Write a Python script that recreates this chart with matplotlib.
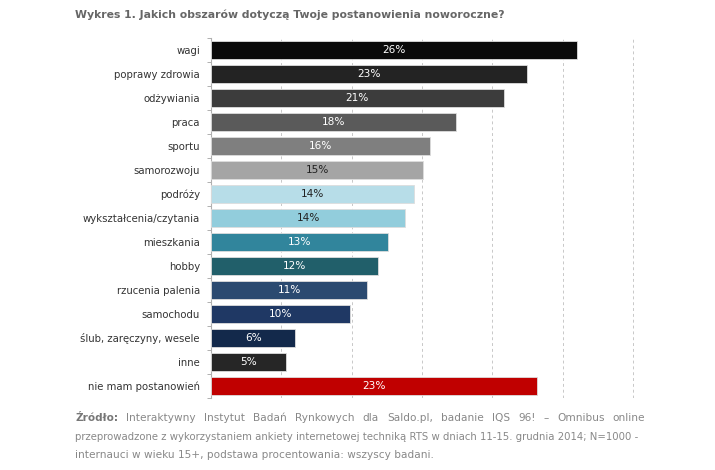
import matplotlib
matplotlib.use("Agg")
import matplotlib.pyplot as plt
from matplotlib.ticker import FixedLocator, NullFormatter

categories = ["wagi", "poprawy zdrowia", "odżywiania", "praca", "sportu", "samorozwoju",
              "podróży", "wykształcenia/czytania", "mieszkania", "hobby", "rzucenia palenia",
              "samochodu", "ślub, zaręczyny, wesele", "inne", "nie mam postanowień"]
values = [26.0, 22.5, 20.8, 17.4, 15.6, 15.1, 14.4, 13.8, 12.6, 11.9, 11.1, 9.9, 6.0, 5.3, 23.2]
labels = ["26%", "23%", "21%", "18%", "16%", "15%", "14%", "14%", "13%", "12%", "11%",
          "10%", "6%", "5%", "23%"]
colors = ["#0a0a0a", "#232323", "#3c3c3c", "#5a5a5a", "#7f7f7f", "#a5a5a5",
          "#b7dde8", "#92cddc", "#31859c", "#215f6a", "#2b4a70", "#1f3864",
          "#13294b", "#262626", "#c00000"]
text_colors = ["white", "white", "white", "white", "white", "#222222",
               "#222222", "#222222", "white", "white", "white", "white",
               "white", "white", "white"]

title = "Wykres 1. Jakich obszarów dotyczą Twoje postanowienia noworoczne?"
source_bold = "Źródło:"
source_lines = [
    "Interaktywny Instytut Badań Rynkowych dla Saldo.pl, badanie IQS 96! – Omnibus online",
    "przeprowadzone z wykorzystaniem ankiety internetowej techniką RTS w dniach 11-15. grudnia 2014; N=1000 -",
    "internauci w wieku 15+, podstawa procentowania: wszyscy badani.",
]

W, H = 715, 470
fig = plt.figure(figsize=(W / 100, H / 100), dpi=100)
ax = fig.add_axes([211 / W, 1 - 398 / H, (647 - 211) / W, (398 - 38) / H])

y = list(range(len(categories)))
bars = ax.barh(y, values, height=0.76, color=colors, edgecolor="#dddddd", linewidth=0.6, zorder=3)
for b, lab, tc in zip(bars, labels, text_colors):
    ax.text(b.get_width() / 2, b.get_y() + b.get_height() / 2, lab, ha="center", va="center",
            color=tc, fontsize=7.6, zorder=4)

ax.set_xlim(0, 31)
ax.set_ylim(len(categories) - 0.5, -0.5)
ax.set_xticks([5, 10, 15, 20, 25, 30])
ax.tick_params(axis="x", length=0, labelbottom=False)
ax.xaxis.grid(True, linestyle=(0, (3, 3)), color="#c8c8c8", linewidth=0.7, zorder=0)

ax.set_yticks(y)
ax.set_yticklabels(categories, fontsize=7.3, color="#333333")
ax.tick_params(axis="y", which="major", length=0, pad=8)
ax.yaxis.set_minor_locator(FixedLocator([i - 0.5 for i in range(len(categories) + 1)]))
ax.yaxis.set_minor_formatter(NullFormatter())
ax.tick_params(axis="y", which="minor", length=3, color="#b0b0b0", width=0.7)

for s in ["top", "right", "bottom"]:
    ax.spines[s].set_visible(False)
ax.spines["left"].set_color("#b0b0b0")
ax.spines["left"].set_linewidth(0.8)

fig.text(75 / W, 1 - 15 / H, title, fontsize=7.8, fontweight="bold", color="#666666",
         ha="left", va="center")

renderer = fig.canvas.get_renderer()


def justify(words, ypix, x0, x1, fs, bold_first=False):
    arts = []
    for i, w in enumerate(words):
        fw = "bold" if (bold_first and i == 0) else "normal"
        col = "#777777" if fw == "bold" else "#888888"
        arts.append(fig.text(0, 1 - ypix / H, w, fontsize=fs, fontweight=fw, color=col,
                             ha="left", va="center"))
    widths = [a.get_window_extent(renderer).width for a in arts]
    gap = (x1 - x0 - sum(widths)) / (len(words) - 1)
    x = x0
    for a, wd in zip(arts, widths):
        a.set_x(x / W)
        x += wd + gap


justify([source_bold] + source_lines[0].split(), 418, 75, 645, 7.6, bold_first=True)

t2 = fig.text(75 / W, 1 - 437 / H, source_lines[1], fontsize=7.0, color="#888888",
              ha="left", va="center")
w2 = t2.get_window_extent(renderer).width
t2.set_fontsize(min(8.0, 7.0 * 570 / w2))

fig.text(75 / W, 1 - 455 / H, source_lines[2], fontsize=7.6, color="#888888",
         ha="left", va="center")

fig.savefig("out.png", dpi=100)
